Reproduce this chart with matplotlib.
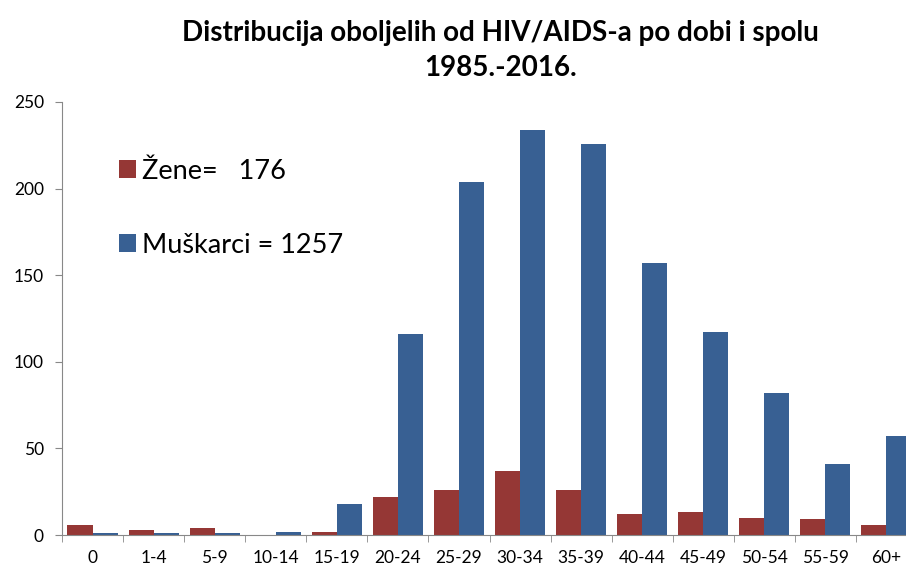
import matplotlib
matplotlib.use("Agg")
import matplotlib.pyplot as plt
import numpy as np

categories = ["0", "1-4", "5-9", "10-14", "15-19", "20-24", "25-29", "30-34",
              "35-39", "40-44", "45-49", "50-54", "55-59", "60+"]
zene = [6, 3, 4, 0, 2, 22, 26, 37, 26, 12, 13, 10, 9, 6]
muskarci = [1, 1, 1, 2, 18, 116, 204, 234, 226, 157, 117, 82, 41, 57]
title_line1 = "Distribucija oboljelih od HIV/AIDS-a po dobi i spolu"
title_line2 = "1985.-2016."
label_z = "Žene=   176"
label_m = "Muškarci = 1257"

plt.rcParams['font.family'] = ['Lato', 'DejaVu Sans']

fig = plt.figure(figsize=(9.06, 5.67), dpi=100)
ax = fig.add_axes([62/906, 1 - 535/567, 855/906, (535 - 102)/567])

x = np.arange(len(categories))
w = 0.41
red = '#953735'
blue = '#386093'
ax.bar(x - w/2, zene, width=w, color=red, label=label_z)
ax.bar(x + w/2, muskarci, width=w, color=blue, label=label_m)

ax.set_xlim(-0.5, len(categories) - 0.5)
ax.set_ylim(0, 250)
ax.set_yticks([0, 50, 100, 150, 200, 250])
ax.set_xticks(x)
ax.set_xticklabels(categories, fontsize=12.5)
ax.set_xticks(np.arange(len(categories) + 1) - 0.5, minor=True)
ax.tick_params(axis='x', which='major', length=0, pad=11)
ax.tick_params(axis='x', which='minor', length=5, color='#888888', direction='out')
ax.tick_params(axis='y', length=5, color='#888888', direction='out', labelsize=12.5, pad=8)
for s in ['top', 'right']:
    ax.spines[s].set_visible(False)
for s in ['left', 'bottom']:
    ax.spines[s].set_color('#888888')

fig.text(0.552, 1 - 33/567, title_line1,
         ha='center', va='center', fontsize=20, fontweight='bold')
fig.text(0.552, 1 - 68/567, title_line2, ha='center', va='center',
         fontsize=20, fontweight='bold')

leg = ax.legend(loc='upper left', bbox_to_anchor=(0.038, 0.925), frameon=False,
                fontsize=19.5, handlelength=0.65, handleheight=0.65,
                handletextpad=0.2, labelspacing=1.8)

fig.savefig("out.png", dpi=100)
